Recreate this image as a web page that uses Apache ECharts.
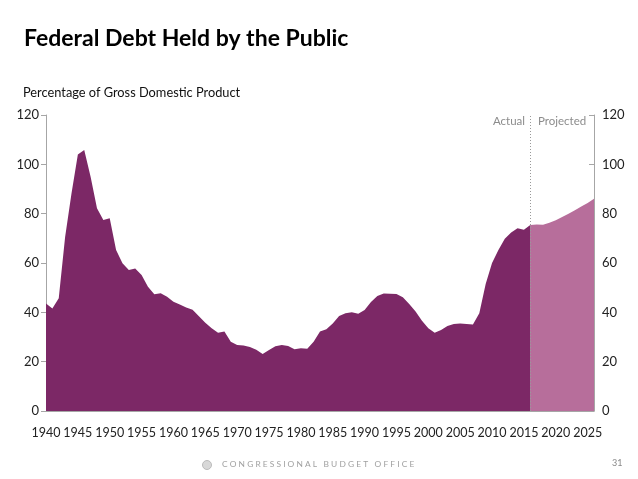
<!DOCTYPE html>
<html>
<head>
<meta charset="utf-8">
<script src="https://cdn.jsdelivr.net/npm/echarts@6/dist/echarts.min.js"></script>
<style>
    html, body { margin: 0; padding: 0; background: #fff; }
    #chart { width: 638px; height: 479px; }
</style>
</head>
<body>
<div id="chart"></div>
<script>
// years 1940 .. 2026
const years = [];
for (let y = 1940; y <= 2026; y++) years.push(String(y));

// actual debt held by the public, % of GDP, 1940-2016
const actualValues = [
    43.6, 41.6, 45.7, 70.5, 88.2, 104.0, 105.8, 95.0, 82.2, 77.4,
    78.1, 65.3, 59.9, 57.2, 57.8, 55.1, 50.4, 47.3, 47.7, 46.3,
    44.3, 43.2, 42.0, 41.0, 38.4, 35.8, 33.5, 31.7, 32.2, 28.1,
    26.8, 26.6, 25.9, 24.8, 23.1, 24.7, 26.3, 26.8, 26.4, 25.0,
    25.4, 25.2, 28.1, 32.2, 33.1, 35.5, 38.5, 39.6, 40.0, 39.4,
    40.9, 44.2, 46.6, 47.6, 47.5, 47.4, 46.1, 43.4, 40.3, 36.6,
    33.5, 31.7, 32.8, 34.5, 35.3, 35.5, 35.3, 35.1, 39.6, 51.5,
    60.0, 65.3, 69.8, 72.4, 74.1, 73.5, 75.4
];

// CBO projection, 2016-2026
const projectedValues = [75.4, 75.6, 75.5, 76.3, 77.3, 78.6, 80.0, 81.4, 82.9, 84.3, 86.0];

const yTicks = { min: 0, max: 120, interval: 20 };
const splitYear = '2016';

const darkPurple = '#7c2866';
const lightPurple = '#b76e9b';
const axisGray = '#a6a6a6';
const labelFont = 'Lato, "Open Sans", sans-serif';

const actualSeries = years.map((y, i) => i < actualValues.length ? actualValues[i] : null);
const projStart = years.indexOf(splitYear);
const projectedSeries = years.map((y, i) => i >= projStart ? projectedValues[i - projStart] : null);

const chart = echarts.init(document.getElementById('chart'), null, { renderer: 'canvas' });

const yAxisBase = {
    type: 'value',
    min: yTicks.min,
    max: yTicks.max,
    interval: yTicks.interval,
    splitLine: { show: false },
    axisLine: { show: true, lineStyle: { color: axisGray, width: 1 } },
    axisLabel: { color: '#222', fontSize: 13, fontFamily: labelFont }
};

chart.setOption({
    animation: false,
    backgroundColor: '#fff',
    title: [
        {
            text: 'Federal Debt Held by the Public',
            left: 19, top: 22,
            textStyle: { fontSize: 23, fontWeight: 'bold', color: '#000', fontFamily: labelFont }
        },
        {
            text: 'Percentage of Gross Domestic Product',
            left: 18, top: 81,
            textStyle: { fontSize: 12.8, fontWeight: 'normal', color: '#111', fontFamily: labelFont }
        }
    ],
    grid: { left: 46, right: 44, top: 115, bottom: 68 },
    xAxis: {
        type: 'category',
        data: years,
        boundaryGap: false,
        axisLine: { lineStyle: { color: axisGray, width: 1 } },
        axisTick: { interval: 4, inside: true, length: 3, lineStyle: { color: '#ddd' } },
        axisLabel: {
            interval: 4, color: '#222', fontSize: 12.5, fontFamily: labelFont, margin: 15
        }
    },
    yAxis: [
        Object.assign({}, yAxisBase, {
            position: 'left',
            axisTick: { show: true, length: 5, lineStyle: { color: axisGray } },
            axisLabel: Object.assign({}, yAxisBase.axisLabel, { margin: 7 })
        }),
        Object.assign({}, yAxisBase, {
            position: 'right',
            axisTick: { show: true, inside: true, length: 5, lineStyle: { color: axisGray } },
            axisLabel: Object.assign({}, yAxisBase.axisLabel, { margin: 8 })
        })
    ],
    series: [
        {
            name: 'Actual',
            type: 'line',
            data: actualSeries,
            showSymbol: false,
            lineStyle: { width: 0 },
            areaStyle: { color: darkPurple, opacity: 1 },
            z: 3
        },
        {
            name: 'Projected',
            type: 'line',
            data: projectedSeries,
            showSymbol: false,
            lineStyle: { width: 0 },
            areaStyle: { color: lightPurple, opacity: 1 },
            z: 2,
            markLine: {
                silent: true,
                symbol: 'none',
                lineStyle: { color: '#999', type: [1, 2], width: 1 },
                label: { show: false },
                data: [{ xAxis: splitYear }]
            }
        }
    ],
    graphic: [
        {
            type: 'text', right: 638 - 525, top: 115,
            style: { text: 'Actual', fill: '#8c8c8c', fontSize: 11.5, fontFamily: labelFont }
        },
        {
            type: 'text', left: 538, top: 115,
            style: { text: 'Projected', fill: '#8c8c8c', fontSize: 11.5, fontFamily: labelFont }
        },
        {
            type: 'text', left: 222, top: 460,
            style: {
                text: 'C O N G R E S S I O N A L   B U D G E T   O F F I C E',
                fill: '#a0a0a0', fontSize: 8.4, fontFamily: labelFont
            }
        },
        {
            type: 'circle', shape: { cx: 207, cy: 465, r: 4.5 },
            style: { fill: '#d8d8d8', stroke: '#bbb', lineWidth: 1 }
        },
        {
            type: 'text', left: 612, top: 459,
            style: { text: '31', fill: '#888', fontSize: 9, fontFamily: labelFont }
        }
    ]
});
</script>
</body>
</html>
